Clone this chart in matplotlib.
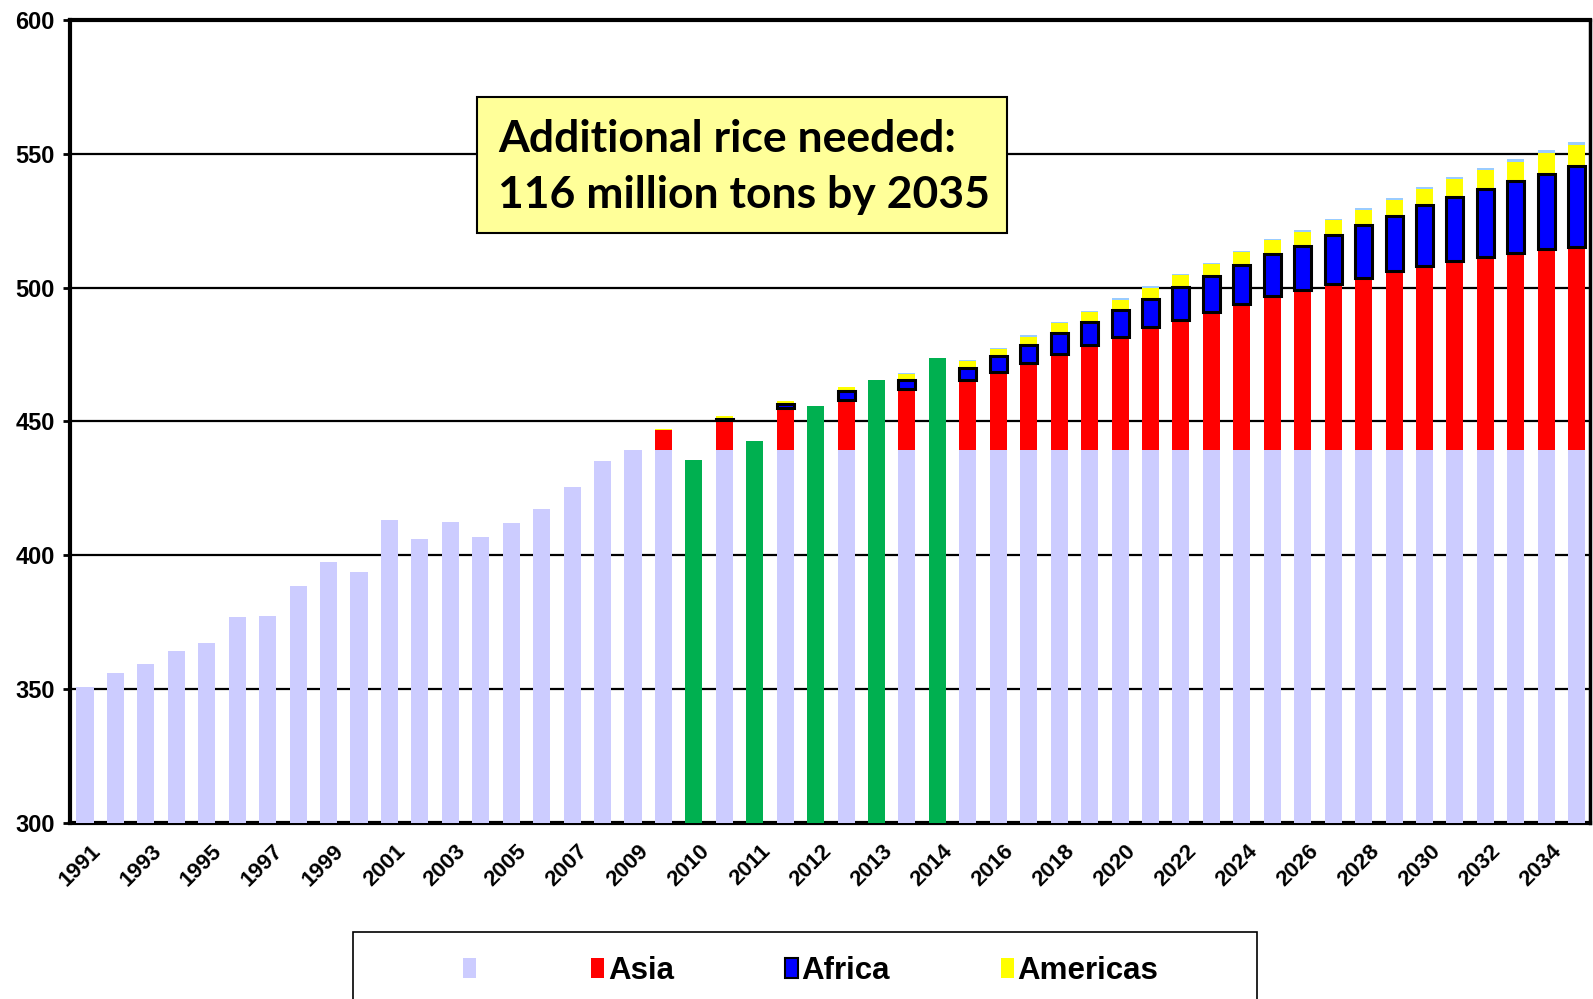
import numpy as np
import matplotlib.pyplot as plt
from matplotlib.patches import Patch, Rectangle
from matplotlib import transforms

plt.rcParams['font.family'] = ['Liberation Sans', 'DejaVu Sans']

# historical production 1991-2009 (million tons)
hist_years = list(range(1991, 2010))
hist_vals = [350.7, 356.0, 359.3, 364.0, 367.0, 377.0, 377.4, 388.5, 397.6, 393.8,
             413.0, 406.2, 412.4, 406.8, 412.0, 417.4, 425.4, 435.0, 439.4]

# actual 2010-2014 (green)
actual_years = [2010, 2011, 2012, 2013, 2014]
actual_vals = [435.5, 442.8, 455.8, 465.6, 473.7]

# projections 2010-2035, stacked on the 2009 level
proj_years = list(range(2010, 2036))
base_level = 439.4
asia = [7.4, 11.1, 15.5, 18.7, 22.8, 25.9, 29.0, 32.5, 35.9, 39.2, 42.3, 45.9, 48.6,
        51.6, 54.5, 57.4, 59.5, 61.8, 64.2, 66.6, 68.7, 70.5, 72.1, 73.4, 74.9, 75.8]
africa = [0.0, 0.4, 1.6, 3.1, 3.4, 4.8, 6.0, 6.8, 7.8, 8.7, 9.9, 10.6, 12.1,
          13.4, 14.5, 15.9, 16.8, 18.3, 19.7, 20.6, 22.8, 24.0, 25.3, 26.9, 28.2, 30.1]
americas = [0.3, 1.0, 1.0, 1.5, 2.0, 2.6, 2.5, 3.0, 3.5, 3.4, 3.8, 4.1, 4.5,
            4.3, 4.7, 5.1, 5.0, 5.6, 5.6, 6.1, 6.0, 6.5, 7.0, 7.4, 7.7, 7.9]
other = [0.0, 0.0, 0.1, 0.3, 0.5, 0.4, 0.4, 0.4, 0.5, 0.6, 0.6, 0.7, 0.5,
         0.6, 0.5, 0.4, 0.7, 0.6, 0.7, 0.7, 0.8, 0.9, 1.0, 1.0, 1.3, 1.3]

c_base = '#CCCCFF'
c_green = '#00B050'
c_asia = '#FF0000'
c_africa = '#0000FF'
c_amer = '#FFFF00'
c_other = '#99CCFF'

# slot order: history, then projection/actual pairs for 2010-2014, then projections
n_hist = len(hist_years)
proj_pos = []
act_pos = []
slot_year = list(hist_years)
for y in proj_years:
    if y in actual_years:
        proj_pos.append(len(slot_year)); slot_year.append(y)
        act_pos.append(len(slot_year)); slot_year.append(y)
    else:
        proj_pos.append(len(slot_year)); slot_year.append(y)
hist_pos = np.arange(n_hist)
proj_pos = np.array(proj_pos)
act_pos = np.array(act_pos)

fig = plt.figure(figsize=(15.93, 9.99), dpi=100)
ax = fig.add_axes([0.044, 0.1765, 0.954, 0.8035])
w = 0.56

ax.bar(hist_pos, np.array(hist_vals) - 300, bottom=300, width=w, color=c_base, zorder=3)
ax.bar(act_pos, np.array(actual_vals) - 300, bottom=300, width=w, color=c_green, zorder=3)

asia = np.array(asia); africa = np.array(africa)
americas = np.array(americas); other = np.array(other)
b = np.full(len(proj_years), base_level)
ax.bar(proj_pos, b - 300, bottom=300, width=w, color=c_base, zorder=3)
ax.bar(proj_pos, asia, bottom=b, width=w, color=c_asia, zorder=3)
b = b + asia
ax.bar(proj_pos, africa, bottom=b, width=w, color=c_africa, edgecolor='black',
       linewidth=np.where(africa > 0, 2.2, 0), zorder=4)
b = b + africa
ax.bar(proj_pos, americas, bottom=b, width=w, color=c_amer, zorder=3)
b = b + americas
ax.bar(proj_pos, other, bottom=b, width=w, color=c_other, zorder=3)

ax.set_xlim(-0.49, 49.43)
ax.set_ylim(300, 600)
ax.set_yticks(np.arange(300, 601, 50))
ax.yaxis.grid(True, color='black', linewidth=1.6)
ax.set_axisbelow(True)
for s in ax.spines.values():
    s.set_linewidth(3)
ax.spines['right'].set_linewidth(2.5)

ax.tick_params(axis='y', length=5, width=2, pad=6, labelsize=17)
ticks = np.arange(0, len(slot_year), 2)
ax.set_xticks(ticks)
ax.set_xticklabels([str(slot_year[i]) for i in ticks], rotation=45, ha='right', va='top',
                   rotation_mode='anchor', fontsize=16, fontweight='bold')
ax.tick_params(axis='x', length=0, pad=13)
for lab in ax.get_yticklabels():
    lab.set_fontweight('bold')
off = transforms.ScaledTranslation(5 / 100, 0, fig.dpi_scale_trans)
for lab in ax.get_xticklabels():
    lab.set_transform(lab.get_transform() + off)

# annotation box
fig.patches.append(Rectangle((0.2997, 0.7672), 0.3324, 0.1362, transform=fig.transFigure,
                             facecolor='#FFFF99', edgecolor='black', linewidth=1.5, zorder=5))
fig.text(0.3126, 0.8474, 'Additional rice needed:', fontsize=32, fontweight='bold',
         family=['Lato', 'DejaVu Sans'], va='baseline', zorder=6)
fig.text(0.3126, 0.7915, '116 million tons by 2035', fontsize=32, fontweight='bold',
         family=['Lato', 'DejaVu Sans'], va='baseline', zorder=6)

# legend
fig.patches.append(Rectangle((0.2213, -0.05), 0.5678, 0.117, transform=fig.transFigure,
                             facecolor='white', edgecolor='black', linewidth=1.2))
handles = [Patch(facecolor=c_base), Patch(facecolor=c_asia),
           Patch(facecolor=c_africa, edgecolor='black', linewidth=1.5), Patch(facecolor=c_amer)]
fig.legend(handles, ['', 'Asia', 'Africa', 'Americas'], ncol=4, mode='expand',
           bbox_to_anchor=(0.281, 0.008, 0.456, 0.04), loc='center', frameon=False,
           borderpad=0, handlelength=0.42, handleheight=0.6, handletextpad=0.12,
           prop={'weight': 'bold', 'size': 22.5})

fig.savefig('out.png', dpi=100)
